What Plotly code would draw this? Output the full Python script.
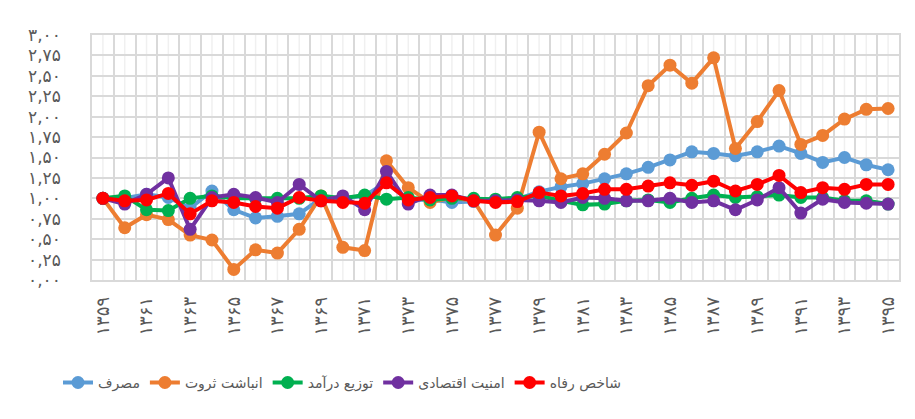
import plotly.graph_objects as go

years = list(range(1359, 1396))

x_tick_years = [1359, 1361, 1363, 1365, 1367, 1369, 1371, 1373, 1375, 1377,
                1379, 1381, 1383, 1385, 1387, 1389, 1391, 1393, 1395]
x_tick_labels = ["۱۳۵۹", "۱۳۶۱", "۱۳۶۳", "۱۳۶۵", "۱۳۶۷", "۱۳۶۹", "۱۳۷۱", "۱۳۷۳", "۱۳۷۵", "۱۳۷۷",
                 "۱۳۷۹", "۱۳۸۱", "۱۳۸۳", "۱۳۸۵", "۱۳۸۷", "۱۳۸۹", "۱۳۹۱", "۱۳۹۳", "۱۳۹۵"]

y_tick_values = [0, 0.25, 0.5, 0.75, 1.0, 1.25, 1.5, 1.75, 2.0, 2.25, 2.5, 2.75, 3.0]
y_tick_labels = ["۰,۰۰", "۰,۲۵", "۰,۵۰", "۰,۷۵", "۱,۰۰", "۱,۲۵", "۱,۵۰", "۱,۷۵",
                 "۲,۰۰", "۲,۲۵", "۲,۵۰", "۲,۷۵", "۳,۰۰"]

masraf = [1.00, 1.00, 1.05, 1.01, 0.88, 1.09, 0.86, 0.76, 0.78, 0.81, 1.00, 1.00, 1.03,
          1.20, 0.97, 0.99, 0.95, 0.96, 0.97, 0.99, 1.08, 1.14, 1.18, 1.24, 1.30, 1.38,
          1.47, 1.57, 1.55, 1.52, 1.57, 1.64, 1.55, 1.44, 1.50, 1.41, 1.35]
anbasht = [1.00, 0.64, 0.80, 0.74, 0.55, 0.49, 0.13, 0.37, 0.33, 0.62, 1.03, 0.40, 0.36,
           1.46, 1.13, 0.95, 1.01, 0.97, 0.55, 0.88, 1.81, 1.24, 1.30, 1.54, 1.80, 2.38,
           2.63, 2.41, 2.72, 1.61, 1.94, 2.32, 1.66, 1.77, 1.97, 2.09, 2.10]
tozi = [1.00, 1.03, 0.86, 0.85, 1.00, 1.03, 1.00, 1.00, 1.00, 1.00, 1.03, 1.00, 1.04,
        0.99, 1.01, 0.98, 1.00, 1.00, 0.99, 1.01, 1.03, 0.97, 0.92, 0.93, 0.97, 0.98,
        0.95, 1.00, 1.04, 1.01, 1.02, 1.04, 1.01, 1.01, 0.97, 0.97, 0.93]
amniat = [1.00, 0.93, 1.05, 1.25, 0.62, 1.01, 1.05, 1.01, 0.95, 1.17, 0.97, 1.03, 0.86,
          1.33, 0.93, 1.04, 1.04, 0.97, 0.97, 0.98, 0.97, 0.95, 1.01, 1.00, 0.97, 0.97,
          1.00, 0.95, 0.97, 0.86, 0.98, 1.13, 0.82, 0.99, 0.95, 0.94, 0.93]
refah = [1.00, 0.97, 0.98, 1.06, 0.81, 0.97, 0.95, 0.90, 0.88, 1.01, 0.97, 0.95, 0.94,
         1.19, 0.98, 1.01, 1.03, 0.97, 0.95, 0.96, 1.07, 1.03, 1.06, 1.11, 1.11, 1.15,
         1.19, 1.16, 1.21, 1.09, 1.17, 1.28, 1.07, 1.13, 1.11, 1.17, 1.17]

series = [
    ("مصرف", masraf, "#5B9BD5"),
    ("انباشت ثروت", anbasht, "#ED7D31"),
    ("توزیع درآمد", tozi, "#00B050"),
    ("امنیت اقتصادی", amniat, "#7030A0"),
    ("شاخص رفاه", refah, "#FF0000"),
]

FONT = "DejaVu Sans"
L, R, T, B = 84, 16, 27, 139
W, H = 907, 411
PW = W - L - R

fig = go.Figure()
for name, vals, color in series:
    fig.add_trace(go.Scatter(
        x=years, y=vals, name=name, mode="lines+markers",
        line=dict(color=color, width=4),
        marker=dict(color=color, size=13),
    ))

fig.update_layout(
    width=W, height=H,
    margin=dict(l=L, r=R, t=T, b=B),
    paper_bgcolor="white", plot_bgcolor="white",
    font=dict(family=FONT, color="#595959"),
    showlegend=True,
    legend=dict(
        orientation="h", x=(58 - 8 - L) / PW, xanchor="left",
        y=-0.42, yanchor="middle", bgcolor="rgba(0,0,0,0)",
        font=dict(size=14, color="#595959", family=FONT), itemwidth=30,
        traceorder="normal",
    ),
    xaxis=dict(
        range=[1358.5, 1395.5],
        tickmode="array", tickvals=x_tick_years, ticktext=x_tick_labels,
        tickangle=-90, tickfont=dict(size=18, color="#595959"),
        showgrid=False, zeroline=False,
        minor=dict(tickmode="array", tickvals=[y + 0.5 for y in years[:-1]],
                   showgrid=True, gridcolor="#D9D9D9", gridwidth=1.5),
        showline=True, linecolor="#D9D9D9", linewidth=1.5, mirror=True,
        ticklabelstandoff=8, automargin=False,
    ),
    yaxis=dict(
        range=[0, 3.0],
        tickmode="array", tickvals=y_tick_values, ticktext=y_tick_labels,
        tickfont=dict(size=17, color="#595959"),
        showgrid=True, gridcolor="#D9D9D9", gridwidth=1.5, zeroline=False,
        showline=True, linecolor="#D9D9D9", linewidth=1.5, mirror=True,
        ticklabelstandoff=26, automargin=False,
    ),
    shapes=[
        dict(type="line", xref="paper", yref="paper", x0=(5 - 8 - L) / PW, x1=(5 - 8 - L) / PW,
             y0=-0.6, y1=1.10, line=dict(color="#D0D0D0", width=1.5)),
    ] + [
        dict(type="line", xref="x", yref="paper", x0=y, x1=y, y0=0, y1=1,
             line=dict(color="#F0F0F0", width=1.5), layer="below")
        for y in years
    ],
)

fig.write_html("out.html")
